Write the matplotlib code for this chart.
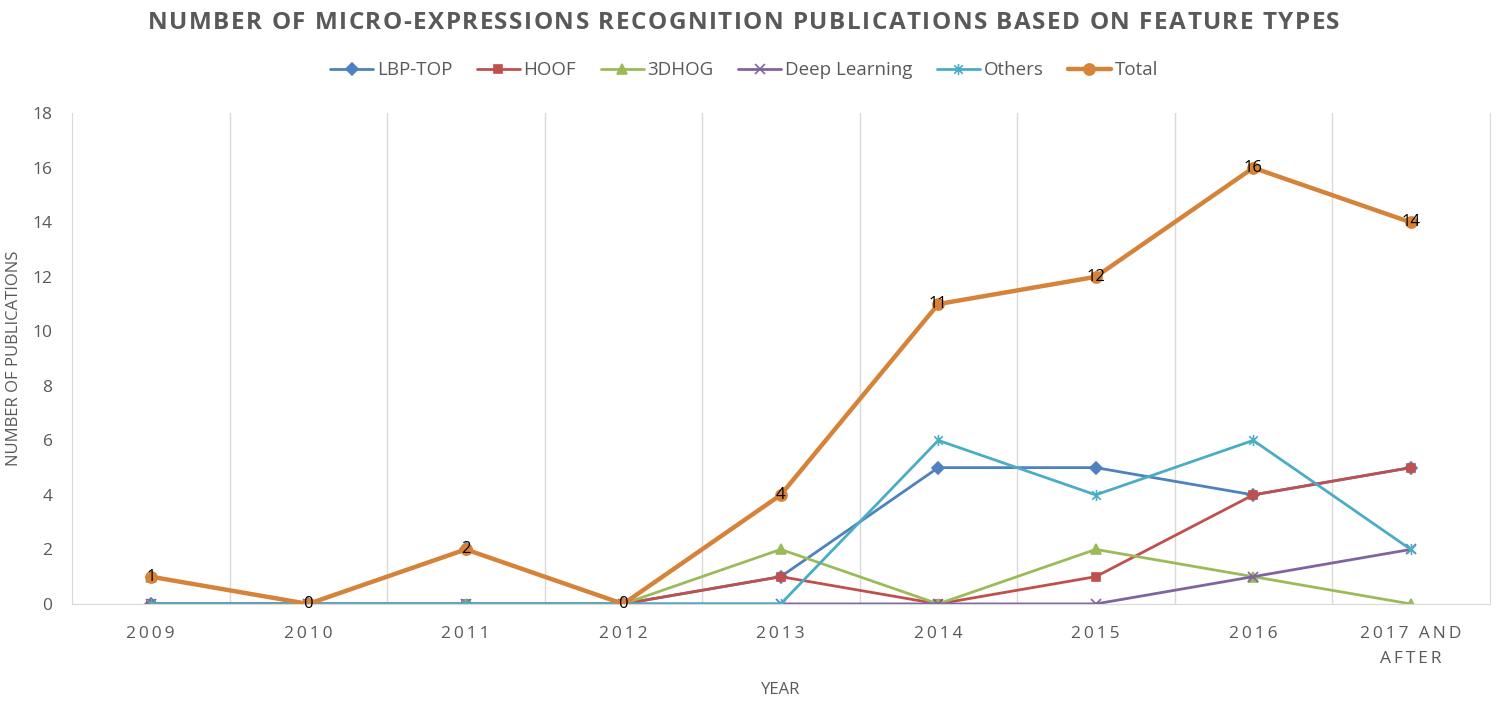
import matplotlib.pyplot as plt
from matplotlib.path import Path
from matplotlib.markers import MarkerStyle

years = ["2009", "2010", "2011", "2012", "2013", "2014", "2015", "2016", "2017 AND\nAFTER"]
lbp_top = [0, 0, 2, 0, 1, 5, 5, 4, 5]
hoof = [0, 0, 0, 0, 1, 0, 1, 4, 5]
dhog = [1, 0, 0, 0, 2, 0, 2, 1, 0]
deep_learning = [0, 0, 0, 0, 0, 0, 0, 1, 2]
others = [0, 0, 0, 0, 0, 6, 4, 6, 2]
total = [1, 0, 2, 0, 4, 11, 12, 16, 14]

title = "NUMBER OF MICRO-EXPRESSIONS RECOGNITION PUBLICATIONS BASED ON FEATURE TYPES"

text_grey = "#595959"
grid_grey = "#D9D9D9"
font = "Open Sans"
font_list = ["Open Sans", "DejaVu Sans"]

# Excel-style star: an x with a vertical bar through it
star_path = Path(
    [(-1, -1), (1, 1), (-1, 1), (1, -1), (0, -1.3), (0, 1.3)],
    [Path.MOVETO, Path.LINETO, Path.MOVETO, Path.LINETO, Path.MOVETO, Path.LINETO],
)
star = MarkerStyle(star_path)


def spaced_text(fig, xc, yc, s, tracking, **kw):
    """Draw text with extra letter spacing (pixels), centred at figure coords."""
    renderer = fig.canvas.get_renderer()
    W = fig.bbox.width
    widths = []
    for ch in s:
        t = fig.text(0, 0, ch if ch != " " else "a a", **kw)
        w = t.get_window_extent(renderer).width
        if ch == " ":
            t2 = fig.text(0, 0, "aa", **kw)
            w = w - t2.get_window_extent(renderer).width
            t2.remove()
        t.remove()
        widths.append(w)
    total_w = sum(widths) + tracking * (len(s) - 1)
    xpos = xc * W - total_w / 2
    for ch, w in zip(s, widths):
        if ch != " ":
            fig.text(xpos / W, yc, ch, ha="left", va="center", **kw)
        xpos += w + tracking


def track(label):
    # thin spaces between letters, like the spaced category labels
    return "\n".join("\u2009".join(line) for line in label.split("\n"))


fig = plt.figure(figsize=(15, 7.08), dpi=100)
ax = fig.add_axes([0.048, 0.147, 0.945, 0.693])

x = list(range(len(years)))
series = [
    ("LBP-TOP", lbp_top, "#4F81BD", "D", 6, 2.0),
    ("HOOF", hoof, "#C0504D", "s", 6, 2.0),
    ("3DHOG", dhog, "#9BBB59", "^", 7, 2.0),
    ("Deep Learning", deep_learning, "#8064A2", "x", 7, 2.0),
    ("Others", others, "#4BACC6", star, 8, 2.0),
    ("Total", total, "#D6833A", "o", 8, 3.2),
]
for name, vals, color, marker, ms, lw in series:
    ax.plot(x, vals, color=color, marker=marker, markersize=ms, linewidth=lw,
            markeredgewidth=1.2, label=name, solid_capstyle="round")

for xi, v in zip(x, total):
    ax.text(xi, v, str(v), ha="center", va="center", fontsize=12, color="black",
            family=font)

ax.set_xlim(-0.5, len(years) - 0.5)
ax.set_ylim(0, 18)
ax.set_yticks(range(0, 19, 2))
ax.set_xticks(x)
ax.set_xticklabels([track(y) for y in years], linespacing=1.7, family=font_list)
for b in range(1, len(years)):
    ax.axvline(b - 0.5, color=grid_grey, linewidth=1, zorder=0)

ax.spines["top"].set_visible(False)
for side in ["left", "right", "bottom"]:
    ax.spines[side].set_color(grid_grey)
ax.tick_params(axis="both", length=0, colors=text_grey, labelsize=12.5)
ax.tick_params(axis="x", pad=16)
ax.tick_params(axis="y", pad=14)
for lab in ax.get_yticklabels():
    lab.set_family(font)

ax.set_xlabel("YEAR", fontsize=12, color=text_grey, family=font)
ax.xaxis.set_label_coords(0.5, -0.160)
ax.set_ylabel("NUMBER OF PUBLICATIONS", fontsize=12, color=text_grey, family=font)
ax.yaxis.set_label_coords(-0.035, 0.5)

spaced_text(fig, 0.496, 0.968, title, 1.5, fontsize=17.5, fontweight="bold",
            color=text_grey, family=font)

fig.legend(loc="center", bbox_to_anchor=(0.496, 0.901), ncol=6, frameon=False,
           prop={"family": font, "size": 13.5}, labelcolor=text_grey,
           handlelength=2.3, handletextpad=0.2, columnspacing=1.3)

fig.savefig("out.png", dpi=100)
